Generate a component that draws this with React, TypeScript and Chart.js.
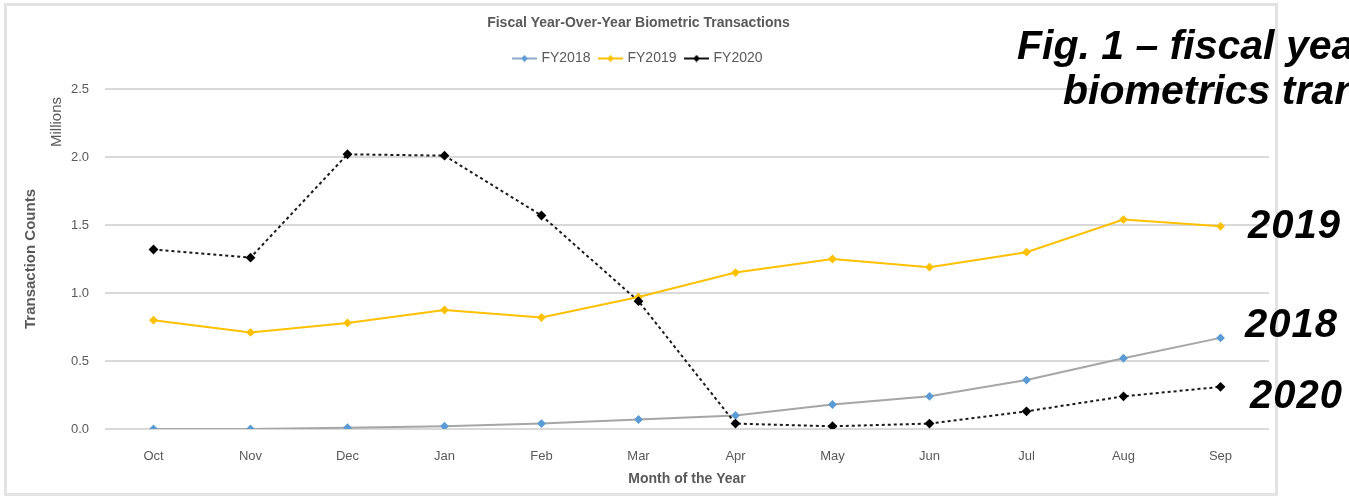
import React, { useEffect, useRef } from 'react';
import { Chart, registerables } from 'chart.js';

Chart.register(...registerables);

// ---- data ----
const months = ['Oct', 'Nov', 'Dec', 'Jan', 'Feb', 'Mar', 'Apr', 'May', 'Jun', 'Jul', 'Aug', 'Sep'];
const seriesNames = ['FY2018', 'FY2019', 'FY2020'];
const fy2018 = [0.0, 0.0, 0.01, 0.02, 0.04, 0.07, 0.1, 0.18, 0.24, 0.36, 0.52, 0.67];
const fy2019 = [0.8, 0.71, 0.78, 0.875, 0.82, 0.97, 1.15, 1.25, 1.19, 1.3, 1.54, 1.49];
const fy2020 = [1.32, 1.26, 2.02, 2.01, 1.57, 0.94, 0.04, 0.02, 0.04, 0.13, 0.24, 0.31];
const yTicks = [0, 0.5, 1.0, 1.5, 2.0, 2.5];
const chartTitle = 'Fiscal Year-Over-Year Biometric Transactions';
const xTitle = 'Month of the Year';
const yTitle = 'Transaction Counts';
const unitsLabel = 'Millions';
const captionLine1 = 'Fig. 1 \u2013 fiscal year-over-year';
const captionLine2 = 'biometrics transactions';
const sideLabels = ['2019', '2018', '2020'];

const TEXT = '#595959';
const FONT = '"Liberation Sans", Arial, sans-serif';

function legendIcon(lineColor: string, markerColor: string) {
  const c = document.createElement('canvas');
  c.width = 25;
  c.height = 8;
  const g = c.getContext('2d')!;
  g.strokeStyle = lineColor;
  g.lineWidth = 2;
  g.beginPath();
  g.moveTo(0, 4);
  g.lineTo(25, 4);
  g.stroke();
  g.fillStyle = markerColor;
  g.beginPath();
  g.moveTo(12.5, 0.5);
  g.lineTo(16, 4);
  g.lineTo(12.5, 7.5);
  g.lineTo(9, 4);
  g.closePath();
  g.fill();
  return c;
}

const EXTRA_LEGEND_SPACE = 13.5;

const helperPlugin = {
  id: 'helperPlugin',
  beforeLayout(chart: any) {
    const lg = chart.legend;
    if (lg && !lg.__patched) {
      const orig = lg.fit.bind(lg);
      lg.fit = function () {
        orig();
        this.height += EXTRA_LEGEND_SPACE;
      };
      lg.__patched = true;
    }
  },
  afterDraw(chart: any) {
    const ctx = chart.ctx;
    ctx.save();
    ctx.translate(50, 116);
    ctx.rotate(-Math.PI / 2);
    ctx.font = `15px ${FONT}`;
    ctx.fillStyle = TEXT;
    ctx.textAlign = 'center';
    ctx.textBaseline = 'middle';
    ctx.fillText(unitsLabel, 0, 0);
    ctx.restore();
  },
};

export default function App() {
  const ref = useRef<HTMLCanvasElement>(null);

  useEffect(() => {
    document.body.style.margin = '0';
    const icons = [
      legendIcon('#8eaacb', '#5b9bd5'),
      legendIcon('#ffc000', '#ffc000'),
      legendIcon('#111111', '#000000'),
    ];
    const chart = new Chart(ref.current!, {
      type: 'line',
      data: {
        labels: months,
        datasets: [
          {
            label: seriesNames[0],
            data: fy2018,
            borderColor: '#a6a6a6',
            borderWidth: 2,
            pointStyle: 'rectRot',
            pointRadius: 3,
            pointBackgroundColor: '#5b9bd5',
            pointBorderColor: '#5b9bd5',
            order: 3,
          },
          {
            label: seriesNames[1],
            data: fy2019,
            borderColor: '#ffc000',
            borderWidth: 2,
            pointStyle: 'rectRot',
            pointRadius: 3,
            pointBackgroundColor: '#ffc000',
            pointBorderColor: '#ffc000',
            order: 2,
          },
          {
            label: seriesNames[2],
            data: fy2020,
            borderColor: '#1a1a1a',
            borderWidth: 2,
            borderDash: [3, 3],
            pointStyle: 'rectRot',
            pointRadius: 3.5,
            pointBackgroundColor: '#000000',
            pointBorderColor: '#000000',
            order: 1,
          },
        ],
      },
      options: {
        responsive: false,
        animation: false,
        devicePixelRatio: 1,
        font: { family: FONT },
        layout: { padding: { left: 0, right: 5, top: 0, bottom: 0 } },
        plugins: {
          tooltip: { enabled: false },
          title: {
            display: true,
            text: chartTitle,
            color: TEXT,
            font: { family: FONT, size: 14, weight: 'bold' },
            padding: { top: 9, bottom: 9.7 },
          },
          legend: {
            display: true,
            labels: {
              color: TEXT,
              font: { family: FONT, size: 14 },
              usePointStyle: true,
              pointStyleWidth: 20,
              boxHeight: 8,
              padding: 10,
              sort: (a: any, b: any) => a.datasetIndex - b.datasetIndex,
              generateLabels: (ch: any) => {
                const items = (Chart.defaults.plugins.legend.labels as any).generateLabels(ch);
                return items.map((it: any) => ({ ...it, pointStyle: icons[it.datasetIndex] }));
              },
            },
          },
        },
        scales: {
          x: {
            offset: true,
            grid: { display: false, drawTicks: false, offset: true },
            border: { display: false },
            ticks: { color: TEXT, font: { family: FONT, size: 13 }, padding: 20 },
            title: {
              display: true,
              text: xTitle,
              color: TEXT,
              font: { family: FONT, size: 14, weight: 'bold' },
              padding: { top: 2, bottom: 5 },
            },
            afterFit: (s: any) => {
              s.height = 64;
            },
          },
          y: {
            min: 0,
            max: 2.5,
            afterBuildTicks: (s: any) => {
              s.ticks = yTicks.map((v) => ({ value: v }));
            },
            ticks: {
              color: TEXT,
              font: { family: FONT, size: 13 },
              padding: 16,
              callback: (v: any) => Number(v).toFixed(1),
            },
            grid: { color: '#d9d9d9', lineWidth: 2, drawTicks: false },
            border: { display: false },
            title: {
              display: true,
              text: yTitle,
              color: TEXT,
              font: { family: FONT, size: 15, weight: 'bold' },
              padding: { top: 15, bottom: 0 },
            },
            afterFit: (s: any) => {
              s.width = 98;
            },
          },
        },
      },
      plugins: [helperPlugin],
    } as any);
    return () => chart.destroy();
  }, []);

  const big: React.CSSProperties = {
    position: 'absolute',
    fontFamily: FONT,
    fontWeight: 'bold',
    fontStyle: 'italic',
    fontSize: 41,
    lineHeight: 1,
    color: '#000',
    whiteSpace: 'nowrap',
  };
  const num: React.CSSProperties = { ...big, fontSize: 40, letterSpacing: 1 };

  return (
    <div style={{ position: 'relative', width: 1349, height: 500, overflow: 'hidden', background: '#fff' }}>
      <div
        style={{
          position: 'absolute',
          left: 4,
          top: 3,
          width: 1268,
          height: 487,
          border: '3px solid #e3e3e3',
        }}
      >
        <canvas ref={ref} width={1268} height={487} style={{ display: 'block', width: 1268, height: 487 }} />
      </div>
      <div style={{ ...big, left: 1017, top: 25 }}>{captionLine1}</div>
      <div style={{ ...big, left: 1063, top: 70 }}>{captionLine2}</div>
      <div style={{ ...num, left: 1248, top: 204 }}>{sideLabels[0]}</div>
      <div style={{ ...num, left: 1245, top: 303 }}>{sideLabels[1]}</div>
      <div style={{ ...num, left: 1250, top: 374 }}>{sideLabels[2]}</div>
    </div>
  );
}
